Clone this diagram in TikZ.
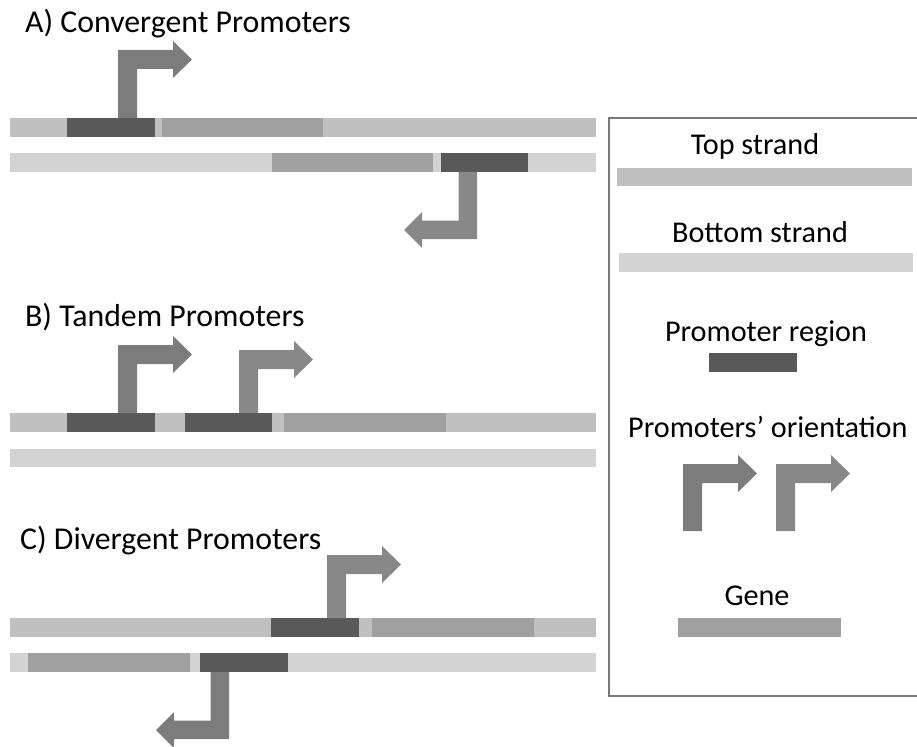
\documentclass[tikz,border=0pt]{standalone}
\usepackage{fontspec}
\setmainfont{Carlito}
\usepackage{tikz}

\definecolor{topstrand}{RGB}{192,192,192}
\definecolor{botstrand}{RGB}{211,211,211}
\definecolor{genecol}{RGB}{160,160,160}
\definecolor{promcol}{RGB}{89,89,89}
\definecolor{arrowdark}{RGB}{124,124,124}
\definecolor{arrowlight}{RGB}{136,136,136}
\definecolor{framecol}{RGB}{120,120,120}

\tikzset{
  title/.style={anchor=base west,inner sep=0pt,font=\fontsize{31.8}{36}\selectfont},
  legtext/.style={anchor=base,inner sep=0pt,font=\fontsize{30.2}{34}\selectfont},
  topbar/.style={fill=topstrand},
  botbar/.style={fill=botstrand},
  genebar/.style={fill=genecol},
  prombar/.style={fill=promcol},
  legframe/.style={draw=framecol,line width=1.6pt}
}

% bent promoter arrow pointing right: stem left x, base y, top y, colour
\newcommand{\tssright}[4]{%
  \fill[#4] (#1,#2) -- (#1,#3) -- (#1+55,#3) -- (#1+55,#3-9) -- (#1+74,#3+9.5)
    -- (#1+55,#3+28) -- (#1+55,#3+19) -- (#1+19,#3+19) -- (#1+19,#2) -- cycle;}
% bent promoter arrow pointing left: stem right x, base y, bottom y, colour
\newcommand{\tssleft}[4]{%
  \fill[#4] (#1,#2) -- (#1,#3) -- (#1-55,#3) -- (#1-55,#3+9) -- (#1-73,#3-9)
    -- (#1-55,#3-27) -- (#1-55,#3-18.5) -- (#1-18.5,#3-18.5) -- (#1-18.5,#2) -- cycle;}

\begin{document}
\begin{tikzpicture}[x=1pt,y=-1pt]
  \useasboundingbox (0,0) rectangle (917,746);

  % A) convergent
  \node[title] (titleA) at (25,33) {A) Convergent Promoters};
  \fill[topbar] (10,118) rectangle (596,137);
  \fill[prombar] (67,118) rectangle (155,137);
  \fill[genebar] (162,118) rectangle (323,137);
  \fill[botbar] (10,153) rectangle (596,172);
  \fill[genebar] (272,153) rectangle (433,172);
  \fill[prombar] (441,153) rectangle (528,172);
  \tssright{118}{118}{50}{arrowdark}
  \tssleft{477}{172}{239}{arrowlight}

  % B) tandem
  \node[title] (titleB) at (25,326) {B) Tandem Promoters};
  \fill[topbar] (10,413) rectangle (596,432);
  \fill[prombar] (67,413) rectangle (155,432);
  \fill[prombar] (185,413) rectangle (272,432);
  \fill[genebar] (284,413) rectangle (446,432);
  \fill[botbar] (10,449) rectangle (596,467);
  \tssright{118}{413}{345}{arrowdark}
  \tssright{239}{413}{350}{arrowlight}

  % C) divergent
  \node[title] (titleC) at (20,549) {C) Divergent Promoters};
  \fill[topbar] (10,618) rectangle (596,637);
  \fill[prombar] (271,618) rectangle (359,637);
  \fill[genebar] (372,618) rectangle (534,637);
  \fill[botbar] (10,653) rectangle (596,672);
  \fill[genebar] (28,653) rectangle (190,672);
  \fill[prombar] (200,653) rectangle (288,672);
  \tssright{327}{618}{555}{arrowlight}
  \tssleft{229}{672}{739}{arrowdark}

  % legend
  \draw[legframe] (609,118) rectangle (980,696);
  \node[legtext] (legtop) at (755,155) {Top strand};
  \fill[topbar] (617,168) rectangle (912,186);
  \node[legtext] (legbot) at (760,242) {Bottom strand};
  \fill[botbar] (619,253) rectangle (913,272);
  \node[legtext] (legprom) at (766,341) {Promoter region};
  \fill[prombar] (709,353) rectangle (797,372);
  \node[legtext,anchor=base west] (legorient) at (628,437) {Promoters’ orientation};
  \tssright{683}{531}{464}{arrowdark}
  \tssright{776}{531}{464}{arrowlight}
  \node[legtext] (leggene) at (757,605) {Gene};
  \fill[genebar] (678,618) rectangle (841,637);
\end{tikzpicture}
\end{document}
